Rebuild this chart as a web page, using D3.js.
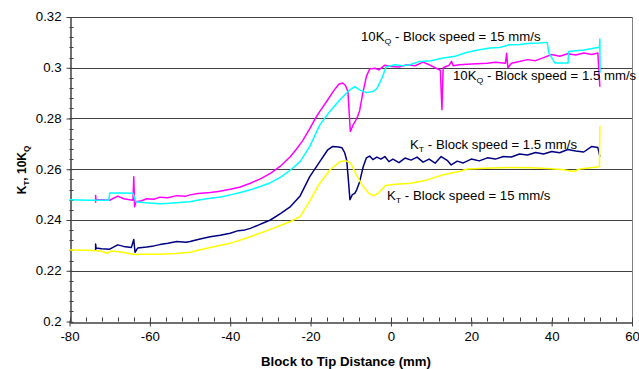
<!DOCTYPE html>
<html>
<head>
<meta charset="utf-8">
<script src="https://cdnjs.cloudflare.com/ajax/libs/d3/7.8.5/d3.min.js"></script>
<style>
  body { margin: 0; background: #fff; }
  text { font-family: "Liberation Sans", Arial, sans-serif; }
</style>
</head>
<body>
<div id="chart"></div>
<script>
// Data: [distance (mm), value]
// ==============================
var kqSlow = [ // 10KQ, block speed 1.5 mm/s (magenta)
  [-73.5,0.2468],[-73.5,0.2497],[-73.4,0.2480],[-72,0.2480],[-70,0.2478],[-68,0.2494],
  [-66.5,0.2484],[-65,0.2480],[-64.2,0.2478],[-64,0.2570],[-63.8,0.2452],[-63.5,0.2472],
  [-62,0.2476],[-60.8,0.2484],[-59,0.2482],[-57.5,0.2490],[-55.5,0.2488],[-53.3,0.2496],
  [-51,0.2494],[-50,0.2499],[-48,0.2504],[-45,0.2508],[-43,0.2512],[-40,0.2521],
  [-37.5,0.2530],[-35,0.2545],[-32.5,0.2562],[-30,0.2584],[-27.5,0.2612],[-25,0.2650],
  [-23.5,0.2680],[-22,0.2712],[-20.2,0.2760],[-19,0.2795],[-17.7,0.2828],[-16,0.2867],
  [-14.4,0.2906],[-13,0.2935],[-12,0.2940],[-11.3,0.2930],[-10.7,0.2905],[-10.3,0.2800],
  [-10.1,0.2749],[-9.4,0.2775],[-8.5,0.2800],[-7.8,0.2830],[-7,0.2900],[-6.1,0.2966],
  [-5.3,0.2995],[-4,0.2998],[-3,0.2992],[-1.5,0.3010],[0,0.3005],[2,0.3003],[4,0.3012],
  [6,0.3008],[8,0.3022],[9.5,0.3012],[11,0.3000],[12.3,0.2990],[12.7,0.2835],[13,0.3000],
  [14.5,0.3010],[15.1,0.3025],[15.5,0.3008],[17,0.3012],[20,0.3015],[24,0.3018],
  [26,0.3022],[28.5,0.3018],[28.8,0.3057],[29.1,0.3000],[30,0.3018],[32,0.3025],
  [34,0.3032],[36,0.3028],[38,0.3040],[40,0.3052],[42,0.3045],[44,0.3055],[46,0.3050],
  [48,0.3058],[50,0.3052],[51.5,0.3058],[52,0.2925]
];

var kqFast = [ // 10KQ, block speed 15 mm/s (cyan)
  [-80,0.2480],[-75,0.2478],[-70.2,0.2478],[-70,0.2506],[-67,0.2506],[-64.2,0.2505],
  [-63.5,0.2472],[-61,0.2468],[-57.5,0.2464],[-55,0.2466],[-52,0.2470],[-50,0.2472],
  [-47.5,0.2480],[-45,0.2486],[-42,0.2492],[-40,0.2499],[-37.5,0.2508],[-35,0.2519],
  [-32.5,0.2532],[-30,0.2547],[-27.5,0.2568],[-25,0.2597],[-22.6,0.2630],[-20.2,0.2690],
  [-17.7,0.2775],[-15.2,0.2828],[-12.7,0.2874],[-10.2,0.2913],[-9,0.2926],[-7.8,0.2913],
  [-6.1,0.2902],[-4.5,0.2906],[-3.5,0.2918],[-2.4,0.2953],[-1.2,0.3003],[1,0.3012],
  [3,0.3008],[4.7,0.3012],[7.2,0.3025],[10,0.3028],[13,0.3038],[16,0.3045],[18.8,0.3060],
  [21,0.3068],[24.6,0.3078],[27,0.3080],[29.6,0.3091],[32,0.3092],[34.6,0.3097],
  [37,0.3098],[38.9,0.3100],[39.3,0.3058],[40.8,0.3019],[44.1,0.3019],[44.2,0.3064],
  [48,0.3070],[51.9,0.3081],[52,0.3113],[52.05,0.2980]
];

var ktSlow = [ // KT, block speed 1.5 mm/s (navy)
  [-73.5,0.2280],[-73.5,0.2305],[-73.4,0.2290],[-72,0.2287],[-70,0.2285],[-68,0.2302],
  [-66.5,0.2296],[-64.6,0.2292],[-64,0.2323],[-63.7,0.2273],[-63,0.2290],[-60.8,0.2294],
  [-59,0.2298],[-57.5,0.2303],[-55.5,0.2308],[-53.3,0.2315],[-51,0.2312],[-50,0.2315],
  [-47.5,0.2325],[-45,0.2334],[-42.5,0.2340],[-40,0.2348],[-38,0.2358],[-36.3,0.2361],
  [-35,0.2367],[-33,0.2380],[-31.5,0.2390],[-30,0.2400],[-27.5,0.2425],[-25,0.2453],
  [-22.6,0.2495],[-20.2,0.2571],[-17.7,0.2630],[-15.8,0.2675],[-14.5,0.2690],[-13,0.2688],
  [-12.2,0.2685],[-11.5,0.2665],[-11,0.2635],[-10.6,0.2560],[-10.2,0.2480],[-9.6,0.2500],
  [-9,0.2505],[-8.5,0.2520],[-7.8,0.2550],[-6.9,0.2610],[-6.1,0.2645],[-5.3,0.2652],
  [-4.5,0.2638],[-3.5,0.2648],[-2.5,0.2640],[-1.5,0.2650],[-0.5,0.2630],[0.5,0.2640],
  [2,0.2626],[3.5,0.2644],[5,0.2636],[6.5,0.2648],[8,0.2628],[9.5,0.2640],[11,0.2624],
  [12.5,0.2650],[14,0.2635],[15,0.2617],[16.5,0.2632],[18,0.2625],[20,0.2640],[22,0.2633],
  [24,0.2645],[26,0.2640],[28,0.2650],[30,0.2648],[32,0.2660],[34,0.2656],[36,0.2666],
  [38,0.2660],[40,0.2670],[42,0.2665],[44,0.2678],[46,0.2672],[48,0.2668],[50,0.2690],
  [51.5,0.2686],[52,0.2650]
];

var ktFast = [ // KT, block speed 15 mm/s (yellow)
  [-80,0.2282],[-76,0.2281],[-74,0.2280],[-72,0.2277],[-70.7,0.2269],[-69.5,0.2278],
  [-67,0.2274],[-64,0.2264],[-62,0.2265],[-57.5,0.2265],[-53.5,0.2268],[-50,0.2273],
  [-47.5,0.2283],[-45,0.2292],[-40,0.2308],[-35,0.2334],[-30,0.2363],[-25,0.2394],
  [-22.6,0.2413],[-20.2,0.2475],[-17.7,0.2545],[-15.2,0.2597],[-12.7,0.2630],[-11.3,0.2634],
  [-10,0.2624],[-8.8,0.2584],[-7.2,0.2538],[-5.5,0.2505],[-4.3,0.2495],[-3,0.2508],
  [-1.4,0.2536],[1,0.2541],[5,0.2545],[9,0.2558],[13,0.2578],[17,0.2591],[19,0.2601],
  [25,0.2605],[30,0.2607],[35,0.2606],[40,0.2602],[43,0.2598],[45.5,0.2591],[47,0.2601],
  [51.9,0.2610],[52,0.2770]
];

var xTickValues = [-80, -60, -40, -20, 0, 20, 40, 60];
var xTickLabels = ["-80", "-60", "-40", "-20", "0", "20", "40", "60"];
var yTickValues = [0.2, 0.22, 0.24, 0.26, 0.28, 0.3, 0.32];
var yTickLabels = ["0.2", "0.22", "0.24", "0.26", "0.28", "0.3", "0.32"];

// label text: [before subscript, subscript, after subscript]
var seriesLabels = [
  ["10K", "Q", " - Block speed = 15 mm/s"],
  ["10K", "Q", " - Block speed = 1.5 mm/s"],
  ["K", "T", " - Block speed = 1.5 mm/s"],
  ["K", "T", " - Block speed = 15 mm/s"]
];

// Set up chart
// ==============================
var svgWidth = 639;
var svgHeight = 369;
var stretch = 1.1; // text in the picture is a little wider than it is tall

var svg = d3.select("#chart")
  .append("svg")
  .attr("width", svgWidth)
  .attr("height", svgHeight);

var xScale = d3.scaleLinear()
  .domain([-80, 60])
  .range([69.5, 632]);

var yScale = d3.scaleLinear()
  .domain([0.2, 0.32])
  .range([321.5, 17]);

// gridlines
svg.append("g")
  .selectAll("line")
  .data(yTickValues.slice(1))
  .enter()
  .append("line")
  .attr("x1", xScale(-80))
  .attr("x2", xScale(60))
  .attr("y1", d => Math.round(yScale(d)) + 0.5)
  .attr("y2", d => Math.round(yScale(d)) + 0.5)
  .attr("stroke", "#404040")
  .attr("stroke-width", 1);

// right border
svg.append("line")
  .attr("x1", Math.round(xScale(60)) + 0.5)
  .attr("x2", Math.round(xScale(60)) + 0.5)
  .attr("y1", yScale(0.32))
  .attr("y2", yScale(0.2))
  .attr("stroke", "#808080");

// minor ticks
var minorX = d3.range(-80, 60.01, 4);
var minorY = d3.range(0.2, 0.3201, 0.004);

svg.append("g")
  .selectAll("line")
  .data(minorX)
  .enter()
  .append("line")
  .attr("x1", d => Math.round(xScale(d)) + 0.5)
  .attr("x2", d => Math.round(xScale(d)) + 0.5)
  .attr("y1", yScale(0.2) - 4)
  .attr("y2", yScale(0.2))
  .attr("stroke", "#404040");

svg.append("g")
  .selectAll("line")
  .data(minorY)
  .enter()
  .append("line")
  .attr("x1", xScale(-80))
  .attr("x2", xScale(-80) + 4)
  .attr("y1", d => Math.round(yScale(d)) + 0.5)
  .attr("y2", d => Math.round(yScale(d)) + 0.5)
  .attr("stroke", "#404040");

// Axes
// ==============================
var bottomAxis = d3.axisBottom(xScale)
  .tickValues(xTickValues)
  .tickFormat((d, i) => xTickLabels[i])
  .tickSizeInner(4)
  .tickSizeOuter(0)
  .tickPadding(6);

var leftAxis = d3.axisLeft(yScale)
  .tickValues(yTickValues)
  .tickFormat((d, i) => yTickLabels[i])
  .tickSizeInner(4)
  .tickSizeOuter(0)
  .tickPadding(5);

var xAxisG = svg.append("g")
  .attr("transform", `translate(0, ${Math.round(yScale(0.2)) + 0.5})`)
  .call(bottomAxis);

var yAxisG = svg.append("g")
  .attr("transform", `translate(${Math.round(xScale(-80)) + 0.5}, 0)`)
  .call(leftAxis);

[xAxisG, yAxisG].forEach(function(g) {
  g.select(".domain").attr("stroke", "#404040").attr("stroke-width", 1.5);
  g.selectAll(".tick line").attr("stroke", "#404040");
  g.selectAll(".tick text")
    .attr("font-family", "Liberation Sans, Arial, sans-serif")
    .attr("font-size", "12px")
    .attr("fill", "#000");
});
// major ticks cross the axis
xAxisG.selectAll(".tick line").attr("y1", -2);
yAxisG.selectAll(".tick line").attr("x1", 2);
// widen the tick labels a touch
xAxisG.selectAll(".tick text").attr("transform", `scale(${stretch},1)`);
yAxisG.selectAll(".tick text")
  .attr("x", -9 / stretch)
  .attr("transform", `scale(${stretch},1)`);

// Series lines
// ==============================
var line = d3.line()
  .x(d => xScale(d[0]))
  .y(d => yScale(d[1]));

var series = [
  { data: ktSlow, color: "#000080" },
  { data: kqSlow, color: "#ff00ff" },
  { data: ktFast, color: "#ffff00" },
  { data: kqFast, color: "#00ffff" }
];

svg.append("g")
  .selectAll("path")
  .data(series)
  .enter()
  .append("path")
  .attr("d", d => line(d.data))
  .attr("fill", "none")
  .attr("stroke", d => d.color)
  .attr("stroke-width", 1.5)
  .attr("stroke-linejoin", "round");

// Annotations
// ==============================
var labelPos = [[361, 41], [453, 80], [410, 149], [387, 200]];

function addSubText(sel, parts) {
  sel.append("tspan").text(parts[0]);
  sel.append("tspan").text(parts[1]).attr("font-size", "8px").attr("dy", 3);
  sel.append("tspan").text(parts[2]).attr("dy", -3);
}

seriesLabels.forEach(function(parts, i) {
  var t = svg.append("text")
    .attr("transform", `translate(${labelPos[i][0]}, ${labelPos[i][1]}) scale(${stretch},1)`)
    .attr("font-size", "12px")
    .attr("fill", "#000");
  addSubText(t, parts);
});

// Axis titles
svg.append("text")
  .attr("transform", `translate(346, 366) scale(${stretch},1)`)
  .attr("text-anchor", "middle")
  .attr("font-size", "12px")
  .attr("font-weight", "bold")
  .text("Block to Tip Distance (mm)");

var yTitle = svg.append("text")
  .attr("transform", "translate(26, 170) rotate(-90)")
  .attr("text-anchor", "middle")
  .attr("font-size", "12px")
  .attr("font-weight", "bold");
yTitle.append("tspan").text("K");
yTitle.append("tspan").text("T").attr("font-size", "8px").attr("dy", 3);
yTitle.append("tspan").text(", 10K").attr("dy", -3);
yTitle.append("tspan").text("Q").attr("font-size", "8px").attr("dy", 3);
</script>
</body>
</html>
